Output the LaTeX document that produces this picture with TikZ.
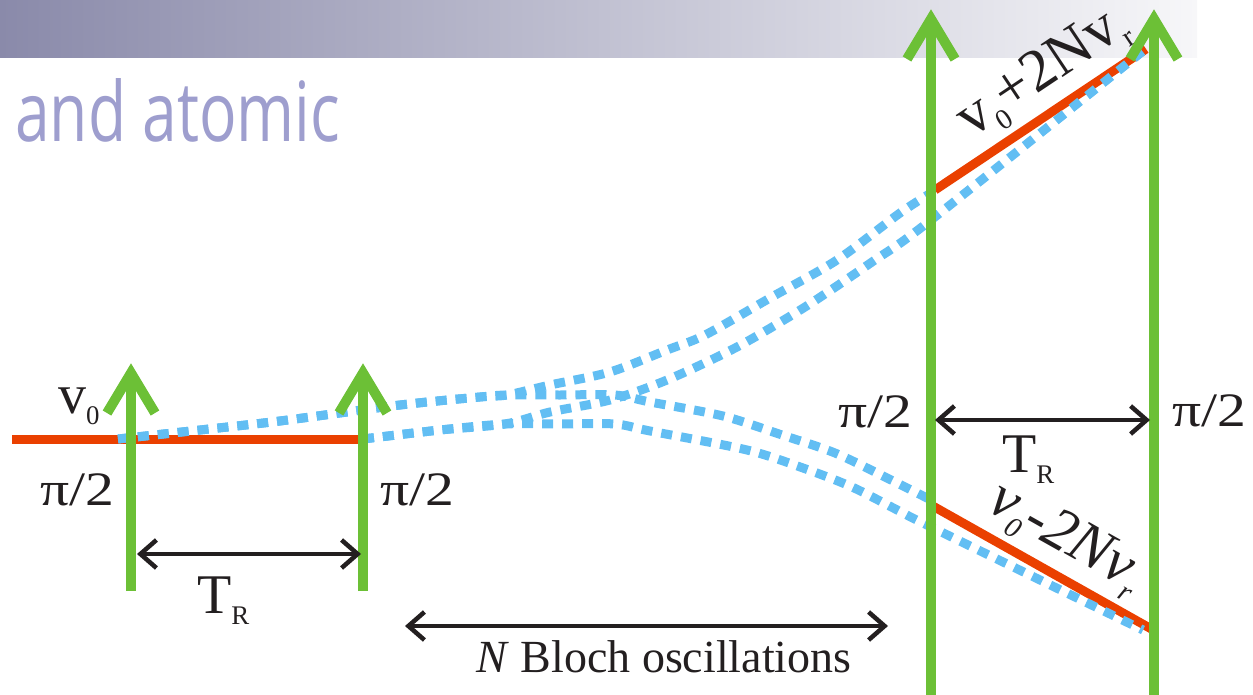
\documentclass[tikz,border=0pt]{standalone}
\usepackage{fontspec}
\setmainfont{Liberation Serif}
\newfontfamily\titlefont{Open Sans}
\usepackage{tikz}
\usetikzlibrary{arrows.meta}

\definecolor{pulsegreen}{RGB}{108,192,54}
\definecolor{velred}{RGB}{234,64,0}
\definecolor{atomblue}{RGB}{98,190,243}
\definecolor{inkblack}{RGB}{35,31,32}
\definecolor{titleblue}{RGB}{158,158,206}
\definecolor{barleft}{RGB}{138,138,170}
\definecolor{barright}{RGB}{247,247,249}

\newcommand{\bigtext}{\fontsize{56}{60}\selectfont}
\newcommand{\slopetext}{\fontsize{60}{64}\selectfont}
\newcommand{\lowsub}[1]{\raisebox{-.2em}{\scalebox{.48}{#1}}}
\newcommand{\halfpi}{\scalebox{1.2}[1]{\fontsize{48}{50}\selectfont π/2}}

\begin{document}
\begin{tikzpicture}[x=1pt,y=-1pt,
  >={Straight Barb[length=16pt,width=28pt,sharp]},
  pulse/.style={draw=pulsegreen,line width=10pt},
  pulsehead/.style={pulse,line join=miter},
  velline/.style={draw=velred,line width=9pt},
  atoms/.style={draw=atomblue,line width=9pt,dash pattern=on 11pt off 9pt},
  span/.style={<->,draw=inkblack,line width=4.5pt},
  lbl/.style={text=inkblack,inner sep=0pt,font=\bigtext}]
\useasboundingbox (0,0) rectangle (1253,695);

% title bar
\shade[left color=barleft,right color=barright] (0,0) rectangle (1197,58);
\node[anchor=base west,inner sep=0pt,text=titleblue] (title) at (15,142)
  {\resizebox{325pt}{63pt}{\titlefont and atomic}};

% velocity classes
\draw[velline] (12,439) -- (363,439);
\draw[velline] (935,190) -- (1146,49)
  node[lbl,font=\slopetext,sloped,above=6pt,pos=.61] (upv) {v\lowsub{0}+2Nv\lowsub{r}};
\draw[velline] (931,505) -- (1155,631)
  node[lbl,font=\slopetext,sloped,above=6pt,pos=.52] (downv) {\itshape v\lowsub{0}-2Nv\lowsub{r}};

% atom trajectories
\draw[atoms] plot[smooth] coordinates {(118,439) (200,430) (280,421) (400,405) (480,397) (507,395)
  (550,385) (610,372) (667,350) (705,335) (770,298) (837,260) (900,213) (931,193)};
\draw[atoms] plot[smooth] coordinates {(118,439) (200,430) (280,421) (400,405) (480,397) (507,395)
  (560,395) (615,395) (650,402) (723,416) (782,435) (835,453) (887,478) (931,500)};
\draw[atoms] plot[smooth] coordinates {(363,439) (440,430) (505,424)
  (550,412) (610,400) (667,380) (737,347) (805,307) (872,262) (931,220) (1148,47)};
\draw[atoms] plot[smooth] coordinates {(363,439) (440,430) (505,424)
  (560,424) (615,424) (650,431) (747,450) (803,468) (852,487) (903,513) (931,527) (1143,630)};

% pulses
\draw[pulse] (131,591) -- (131,373);
\draw[pulsehead] (107,413) -- (131,373) -- (155,413);
\draw[pulse] (363,591) -- (363,373);
\draw[pulsehead] (339,413) -- (363,373) -- (387,413);
\draw[pulse] (931,695) -- (931,19);
\draw[pulsehead] (907,59) -- (931,19) -- (955,59);
\draw[pulse] (1154,695) -- (1154,19);
\draw[pulsehead] (1130,59) -- (1154,19) -- (1178,59);

% times
\coordinate (a1) at (137,554);
\coordinate (a2) at (361,554);
\coordinate (b1) at (405,626);
\coordinate (b2) at (888,626);
\coordinate (c1) at (935,420);
\coordinate (c2) at (1150,420);
\draw[span] (a1) -- (a2);
\draw[span] (b1) -- (b2);
\draw[span] (c1) -- (c2);

% labels
\node[lbl,anchor=base west] (v0) at (58,413) {v\lowsub{0}};
\node[lbl,anchor=base west] (pi1) at (40,505) {\halfpi};
\node[lbl,anchor=base west] (pi2) at (380,505) {\halfpi};
\node[lbl,anchor=base west] (pi3) at (838,427) {\halfpi};
\node[lbl,anchor=base west] (pi4) at (1172,426) {\halfpi};
\node[lbl,anchor=base west] (tr1) at (197,613) {T\lowsub{R}};
\node[lbl,anchor=base west] (tr2) at (1002,472) {T\lowsub{R}};
\node[lbl,anchor=base,font=\fontsize{46}{50}\selectfont] (bloch) at (664,672)
  {\textit{N} Bloch oscillations};
\end{tikzpicture}
\end{document}
